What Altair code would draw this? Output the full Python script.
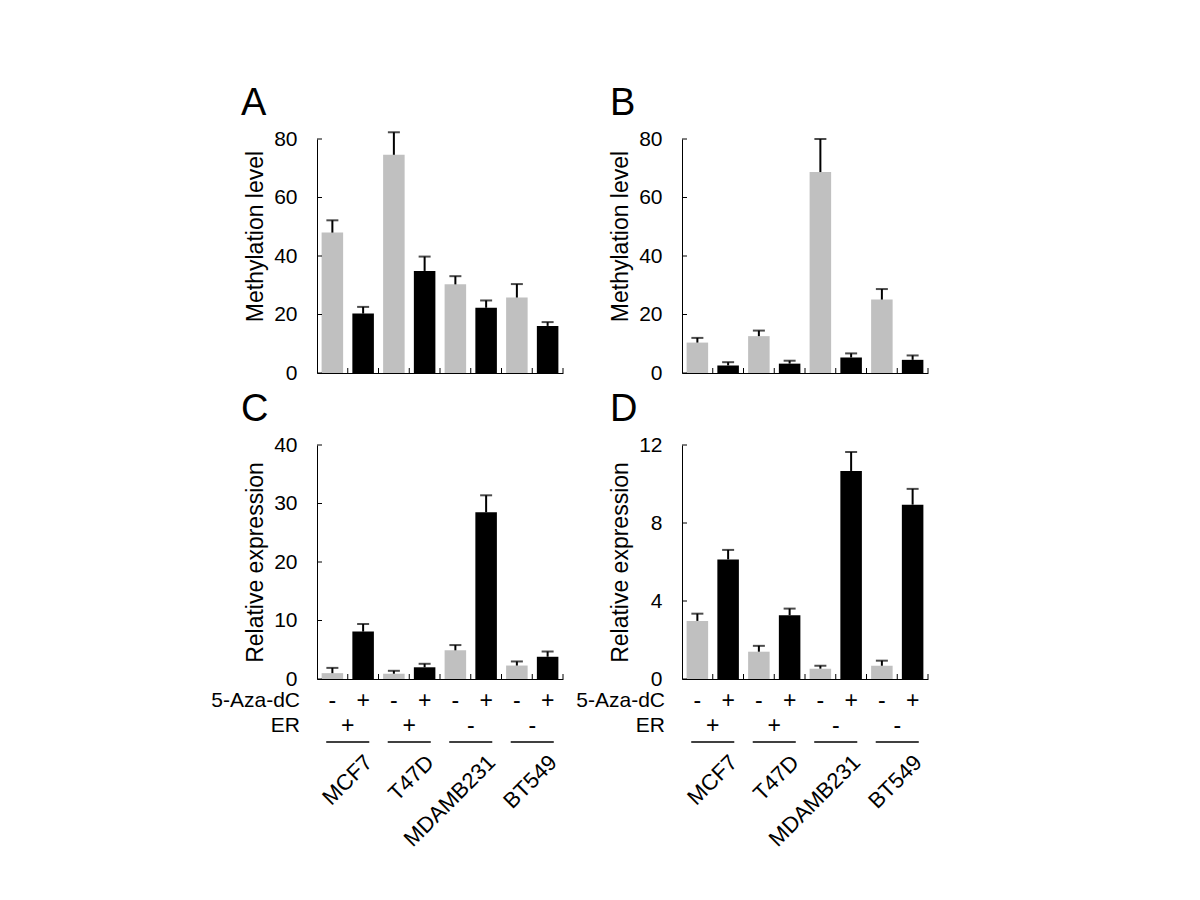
import altair as alt
import pandas as pd

# ---------------- data ----------------
bar_ids = ["MCF7 -", "MCF7 +", "T47D -", "T47D +",
           "MDAMB231 -", "MDAMB231 +", "BT549 -", "BT549 +"]
aza = ["-", "+", "-", "+", "-", "+", "-", "+"]
cell_lines = ["MCF7", "T47D", "MDAMB231", "BT549"]
er_status = ["+", "+", "-", "-"]
row_labels = ["5-Aza-dC", "ER"]

a_mean = [48.0, 20.3, 74.6, 34.9, 30.3, 22.3, 25.8, 16.1]
a_err = [4.2, 2.3, 7.7, 4.9, 2.8, 2.5, 4.6, 1.3]
b_mean = [10.4, 2.6, 12.6, 3.2, 68.7, 5.3, 25.1, 4.5]
b_err = [1.6, 1.1, 1.9, 1.0, 11.3, 1.4, 3.6, 1.5]
c_mean = [1.0, 8.1, 0.9, 2.0, 4.9, 28.5, 2.3, 3.8]
c_err = [0.9, 1.3, 0.5, 0.6, 0.9, 2.9, 0.7, 0.9]
d_mean = [2.98, 6.13, 1.40, 3.27, 0.53, 10.67, 0.68, 8.94]
d_err = [0.37, 0.49, 0.30, 0.34, 0.15, 0.97, 0.26, 0.81]

ab_ticks = [0, 20, 40, 60, 80]
c_ticks = [0, 10, 20, 30, 40]
d_ticks = [0, 4, 8, 12]

# ---------------- style ----------------
FONT = "Liberation Sans"
GRAY = "#c0c0c0"
W, H = 246, 234


def panel(letter, mean, err, ticks, title, letter_dx, bottom, title_y=None):
    df = pd.DataFrame({
        "bar": bar_ids,
        "aza": aza,
        "mean": mean,
        "hi": [m + e for m, e in zip(mean, err)],
    })
    pairs = pd.DataFrame({
        "first": bar_ids[0::2],
        "second": bar_ids[1::2],
        "er": er_status,
        "cell": cell_lines,
    })
    tick_df = pd.DataFrame({"t": ticks})

    xscale = alt.Scale(domain=bar_ids, paddingInner=0, paddingOuter=0)
    yscale = alt.Scale(domain=[ticks[0], ticks[-1]], nice=False)
    xaxis = alt.Axis(labels=False, ticks=False, domain=True, title=None,
                     domainColor="black", domainWidth=1, grid=False)
    yargs = dict(values=ticks, grid=False, ticks=False, domainColor="black",
                 domainWidth=1, labelFont=FONT, labelFontSize=21,
                 labelColor="black", labelPadding=20, title=title,
                 titleFont=FONT, titleFontSize=23, titleFontWeight="normal",
                 titleColor="black", titlePadding=6)
    if title_y is not None:
        yargs["titleY"] = title_y
    yaxis = alt.Axis(**yargs)

    x = alt.X("bar:N", scale=xscale, axis=xaxis)
    base = alt.Chart(df)

    bars = base.mark_bar(width=alt.RelativeBandSize(0.7)).encode(
        x=x,
        y=alt.Y("mean:Q", scale=yscale, axis=yaxis),
        color=alt.Color("aza:N", scale=alt.Scale(domain=["-", "+"], range=[GRAY, "black"]),
                        legend=None),
    )
    stems = base.mark_rule(color="black", strokeWidth=2).encode(
        x=x, y=alt.Y("mean:Q", scale=yscale, axis=yaxis), y2="hi:Q")
    caps = base.mark_tick(orient="horizontal", size=12, thickness=2, color="black").encode(
        x=x, y=alt.Y("hi:Q", scale=yscale, axis=yaxis))
    xticks = base.mark_rule(color="black", strokeWidth=1).encode(
        x=alt.X("bar:N", scale=xscale, axis=xaxis, bandPosition=1),
        y=alt.value(H), y2=alt.value(H - 5))
    yticks = alt.Chart(tick_df).mark_rule(color="black", strokeWidth=1).encode(
        y=alt.Y("t:Q", scale=yscale, axis=yaxis), x=alt.value(0), x2=alt.value(5))
    letter_mark = alt.Chart(pd.DataFrame({"letter": [letter]})).mark_text(
        align="left", baseline="alphabetic", font=FONT, fontSize=38, color="black"
    ).encode(text="letter:N", x=alt.value(letter_dx), y=alt.value(-24))

    layers = [bars, stems, caps, xticks, yticks, letter_mark]

    if bottom:
        aza_text = base.mark_text(font=FONT, fontSize=23, baseline="middle",
                                  color="black").encode(
            x=x, y=alt.value(H + 22), text="aza:N")
        aza_lab = alt.Chart(pd.DataFrame({"lab": [row_labels[0]]})).mark_text(
            font=FONT, fontSize=21, align="right", baseline="middle", color="black"
        ).encode(text="lab:N", x=alt.value(-17), y=alt.value(H + 22))
        er_lab = alt.Chart(pd.DataFrame({"lab": [row_labels[1]]})).mark_text(
            font=FONT, fontSize=21, align="right", baseline="middle", color="black"
        ).encode(text="lab:N", x=alt.value(-17), y=alt.value(H + 47))
        pc = alt.Chart(pairs)
        er_text = pc.mark_text(font=FONT, fontSize=23, baseline="middle",
                               color="black").encode(
            x=alt.X("first:N", scale=xscale, axis=xaxis, bandPosition=1),
            y=alt.value(H + 47), text="er:N")
        lines = pc.mark_rule(color="black", strokeWidth=1.5).encode(
            x=alt.X("first:N", scale=xscale, axis=xaxis, bandPosition=0.3),
            x2=alt.X2("second:N", bandPosition=0.7),
            y=alt.value(H + 63))
        names = pc.mark_text(font=FONT, fontSize=22, angle=315, align="right",
                             baseline="middle", color="black", xOffset=21).encode(
            x=alt.X("first:N", scale=xscale, axis=xaxis, bandPosition=1),
            y=alt.value(H + 80), text="cell:N")
        layers += [aza_text, aza_lab, er_lab, er_text, lines, names]

    return alt.layer(*layers).properties(
        width=W, height=H,
        view=alt.ViewBackground(strokeWidth=0, strokeOpacity=0))


pA = panel("A", a_mean, a_err, ab_ticks, "Methylation level", -76, False, title_y=97)
pB = panel("B", b_mean, b_err, ab_ticks, "Methylation level", -72, False, title_y=97)
pC = panel("C", c_mean, c_err, c_ticks, "Relative expression", -76, True)
pD = panel("D", d_mean, d_err, d_ticks, "Relative expression", -72, True)

chart = alt.concat(pA, pB, pC, pD, columns=2,
                   spacing=alt.RowColnumber(row=8, column=12)).properties(
    padding={"left": 203, "top": 77, "right": 5, "bottom": 5},
    background="white"
).configure_view(strokeWidth=0, stroke="transparent").configure_axis(
    labelFont=FONT, labelFontSize=21, labelColor="black",
    titleFont=FONT, titleFontSize=23, titleFontWeight="normal", titleColor="black"
)

chart.save("out.html", embed_options={"renderer": "svg", "actions": False})
